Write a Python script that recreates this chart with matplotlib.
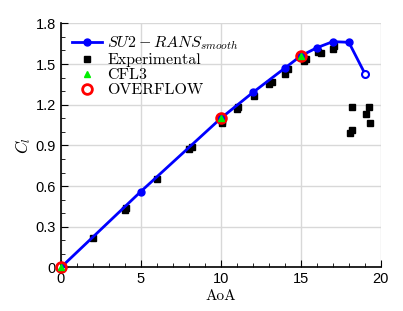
import matplotlib
matplotlib.use("Agg")
import matplotlib.pyplot as plt
from matplotlib.ticker import MultipleLocator

plt.rcParams['mathtext.fontset'] = 'cm'
plt.rcParams['font.family'] = ['Liberation Sans', 'DejaVu Sans']

su2_aoa = [0, 5, 10, 12, 14, 15, 16, 17, 18, 19]
su2_cl = [0.0, 0.56, 1.10, 1.29, 1.47, 1.56, 1.62, 1.665, 1.66, 1.43]

exp_aoa = [2.0, 4.0, 4.05, 6.0, 8.0, 8.2, 10.05, 10.1, 11.0, 11.1, 12.05, 13.0, 13.2,
           14.0, 14.2, 15.2, 15.3, 16.1, 16.25, 17.0, 17.1,
           18.2, 18.05, 18.2, 19.25, 19.1, 19.3]
exp_cl = [0.215, 0.425, 0.44, 0.653, 0.87, 0.885, 1.065, 1.08, 1.17, 1.185, 1.267, 1.35, 1.37,
          1.43, 1.46, 1.52, 1.535, 1.585, 1.58, 1.61, 1.63,
          1.186, 0.994, 1.01, 1.186, 1.13, 1.068]

cfl3_aoa = [0, 10, 15]
cfl3_cl = [0.0, 1.10, 1.56]

ovf_aoa = [0, 10, 15]
ovf_cl = [0.0, 1.10, 1.56]

fig = plt.figure(figsize=(4.03, 3.11), dpi=100)
ax = fig.add_axes([0.151, 0.14, 0.794, 0.785])

ax.plot(su2_aoa[:-1], su2_cl[:-1], '-', color='blue', lw=2, marker='o', ms=5,
        mfc='blue', mec='blue', zorder=3, label=r'$SU2-RANS_{smooth}$')
ax.plot(su2_aoa[-2:], su2_cl[-2:], '-', color='blue', lw=2, zorder=3)
ax.plot(su2_aoa[-1:], su2_cl[-1:], 'o', ms=5, mfc='white', mec='blue', mew=1.5, zorder=4)
ax.plot(exp_aoa, exp_cl, 's', color='black', ms=5, ls='none', zorder=2, label='Experimental')
ax.plot(cfl3_aoa, cfl3_cl, '^', color='#00ee00', ms=5, ls='none', zorder=6, label='CFL3',
        clip_on=False)
ax.plot(ovf_aoa, ovf_cl, 'o', mfc='none', mec='red', mew=2, ms=7, ls='none', zorder=5,
        label='OVERFLOW', clip_on=False)

ax.set_xlim(0, 20)
ax.set_ylim(0, 1.8)
ax.xaxis.set_major_locator(MultipleLocator(5))
ax.xaxis.set_minor_locator(MultipleLocator(1))
ax.yaxis.set_major_locator(MultipleLocator(0.3))
ax.yaxis.set_minor_locator(MultipleLocator(0.1))
ax.set_xticks([0, 5, 10, 15, 20])
ax.set_xticklabels(['0', '5', '10', '15', '20'])
ax.set_yticks([0, 0.3, 0.6, 0.9, 1.2, 1.5, 1.8])
ax.set_yticklabels(['0', '0.3', '0.6', '0.9', '1.2', '1.5', '1.8'])

ax.grid(True, which='major', color='#d8d8d8', lw=1)
ax.set_axisbelow(True)
for s in ['top', 'right']:
    ax.spines[s].set_visible(False)
for s in ['left', 'bottom']:
    ax.spines[s].set_linewidth(1.2)
ax.tick_params(which='both', direction='in', top=False, right=False)
ax.tick_params(which='major', length=5, labelsize=10.5)
ax.tick_params(which='minor', length=3)

ax.set_xlabel('AoA', family='cmr10', fontsize=11, labelpad=2)
ax.set_ylabel(r'$C_l$', fontsize=12, labelpad=2)

leg = ax.legend(loc='upper left', frameon=False, handlelength=1.9,
                borderaxespad=0.4, borderpad=0.3, labelspacing=0.05, handletextpad=0.3,
                prop={'family': 'cmr10', 'size': 11.5})

fig.savefig('out.png', dpi=100)
